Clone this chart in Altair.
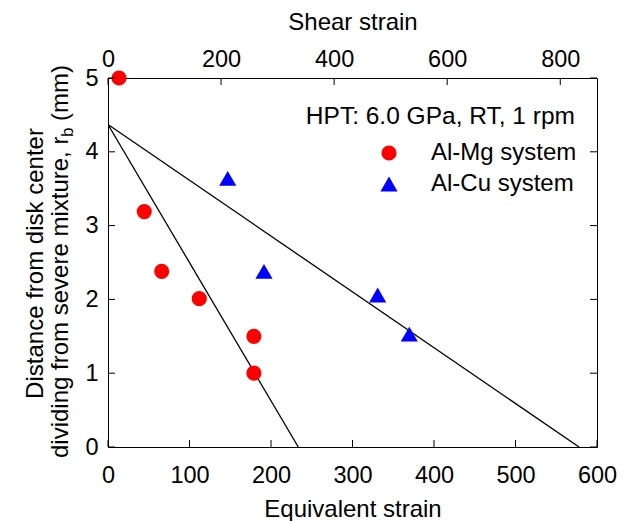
import altair as alt
import pandas as pd

# ---- data ----
systems = ["Al-Mg system", "Al-Cu system"]
colors = ["#ff0000", "#0000ff"]
shapes = ["circle", "triangle-up"]
sizes = [230, 295]

mg_equiv = [13.5, 44.5, 65.9, 112, 179, 179]
mg_rb = [5.0, 3.19, 2.38, 2.01, 1.50, 1.0]
cu_equiv = [146.9, 191.4, 330.9, 369.7]
cu_rb = [3.64, 2.38, 2.06, 1.53]

fit_names = ["Al-Mg fit", "Al-Mg fit", "Al-Cu fit", "Al-Cu fit"]
fit_equiv = [0, 233.5, 0, 578]
fit_rb = [4.37, 0, 4.37, 0]

equiv_ticks = [0, 100, 200, 300, 400, 500, 600]
rb_ticks = [0, 1, 2, 3, 4, 5]
shear_ticks = [0, 200, 400, 600, 800]

W, H = 489, 369
FONT = "Liberation Sans"
TL = 7  # inward tick length

pts = pd.DataFrame({
    "equiv": mg_equiv + cu_equiv,
    "rb": mg_rb + cu_rb,
    "system": [systems[0]] * len(mg_equiv) + [systems[1]] * len(cu_equiv),
})
fits = pd.DataFrame({"name": fit_names, "equiv": fit_equiv, "rb": fit_rb})
xt = pd.DataFrame({"v": equiv_ticks})
yt = pd.DataFrame({"v": rb_ticks})
st = pd.DataFrame({"v": shear_ticks})
one = pd.DataFrame({"a": [0]})

xscale = alt.Scale(domain=[0, 600], nice=False, zero=False)
yscale = alt.Scale(domain=[0, 5], nice=False, zero=False)

xaxis = alt.Axis(orient="bottom", values=equiv_ticks, ticks=False, tickSize=0,
                 domain=False, grid=False, labelFontSize=23.5, labelPadding=16,
                 labelFlush=False, labelOverlap=False,
                 title="Equivalent strain", titleFontSize=24,
                 titleFontWeight="normal", titlePadding=11)
yaxis = alt.Axis(orient="left", values=rb_ticks, ticks=False, tickSize=0,
                 domain=False, grid=False, labelFontSize=23.5, labelPadding=10,
                 labelFlush=False, labelOverlap=False, title=None)

X = lambda f: alt.X(f, type="quantitative", scale=xscale, axis=xaxis)
Y = lambda f: alt.Y(f, type="quantitative", scale=yscale, axis=yaxis)

legend = alt.Legend(orient="none", legendX=269, legendY=63, title=None,
                    labelFontSize=24, labelFont=FONT, symbolSize=290,
                    symbolStrokeWidth=0, labelOffset=30, rowPadding=7,
                    padding=0)

lines = alt.Chart(fits).mark_line(color="black", strokeWidth=1.3, clip=True).encode(
    x=X("equiv"), y=Y("rb"), detail="name:N")

points = alt.Chart(pts).mark_point(filled=True, opacity=1).encode(
    x=X("equiv"), y=Y("rb"),
    color=alt.Color("system:N", scale=alt.Scale(domain=systems, range=colors), legend=legend),
    shape=alt.Shape("system:N", scale=alt.Scale(domain=systems, range=shapes), legend=legend),
    size=alt.Size("system:N", scale=alt.Scale(domain=systems, range=sizes), legend=None),
)

left_ticks = alt.Chart(yt).mark_rule(color="black").encode(
    y=Y("v"), x=alt.value(0), x2=alt.value(TL))
right_ticks = alt.Chart(yt).mark_rule(color="black").encode(
    y=Y("v"), x=alt.value(W - TL), x2=alt.value(W))
bottom_ticks = alt.Chart(xt).mark_rule(color="black").encode(
    x=X("v"), y=alt.value(H - TL), y2=alt.value(H))

hpt = alt.Chart(one).mark_text(text="HPT: 6.0 GPa, RT, 1 rpm", font=FONT, fontSize=24.5,
                               align="right", baseline="alphabetic").encode(
    x=alt.value(467), y=alt.value(46))

ytitle1 = alt.Chart(one).mark_text(text="Distance from disk center", font=FONT, fontSize=24,
                                   angle=270, align="center", baseline="alphabetic").encode(
    x=alt.value(-65), y=alt.value(185.5))
ytitle2 = alt.Chart(one).mark_text(text="dividing from severe mixture, r", font=FONT, fontSize=24,
                                   angle=270, align="left", baseline="alphabetic").encode(
    x=alt.value(-40), y=alt.value(380))
ytitle_b = alt.Chart(one).mark_text(text="b", font=FONT, fontSize=17,
                                    angle=270, align="left", baseline="alphabetic").encode(
    x=alt.value(-35), y=alt.value(59))
ytitle3 = alt.Chart(one).mark_text(text="(mm)", font=FONT, fontSize=24,
                                   angle=270, align="left", baseline="alphabetic").encode(
    x=alt.value(-40), y=alt.value(43))

main = alt.layer(lines, points, left_ticks, right_ticks, bottom_ticks,
                 hpt, ytitle1, ytitle2, ytitle_b, ytitle3)

top = alt.Chart(st).mark_rule(color="black").encode(
    x=alt.X("v:Q", scale=alt.Scale(domain=[0, 865], nice=False, zero=False),
            axis=alt.Axis(orient="top", values=shear_ticks, ticks=False, tickSize=0,
                          domain=False, grid=False, labelFontSize=23.5, labelPadding=7,
                          labelFlush=False, labelOverlap=False,
                          title="Shear strain", titleFontSize=24,
                          titleFontWeight="normal", titlePadding=13)),
    y=alt.value(0), y2=alt.value(TL))

chart = alt.layer(main, top).resolve_scale(x="independent").properties(
    width=W, height=H,
    autosize=alt.AutoSizeParams(type="none"),
    padding={"left": 100, "top": 70, "right": 29, "bottom": 74},
).configure(font=FONT).configure_view(stroke="black", strokeWidth=1).configure_axis(
    labelFont=FONT, titleFont=FONT, labelColor="black", titleColor="black")

chart.save("out.html", embed_options={"renderer": "svg", "actions": False})
